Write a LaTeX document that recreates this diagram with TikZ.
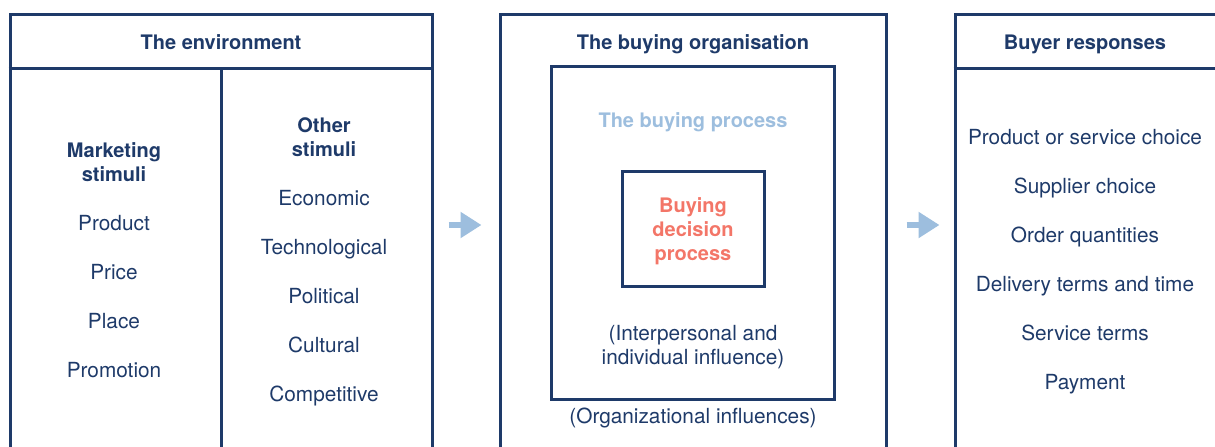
\documentclass[tikz,border=0pt]{standalone}
\usepackage{fontspec}
\setmainfont{TeX Gyre Heros}
\usetikzlibrary{arrows.meta}

\definecolor{navy}{RGB}{30,58,105}
\definecolor{paleblue}{RGB}{157,190,222}
\definecolor{salmon}{RGB}{243,118,104}

\tikzset{
  box/.style={draw=navy, line width=1.5pt, inner sep=0pt},
  head/.style={font=\bfseries, text=navy},
  item/.style={text=navy, align=center},
  oneline/.style={text height=9.4pt, text depth=2pt},
  flow/.style={draw=paleblue, line width=3pt, -{Triangle[length=10.5pt,width=12.5pt]}}
}

\begin{document}
\begin{tikzpicture}[x=0.5pt, y=-0.5pt, font=\fontsize{10.4}{12.3}\selectfont]
  \useasboundingbox (0,0) rectangle (1215,446);
  \clip (0,0) rectangle (1215,446);

  % outer boxes, running off the bottom edge
  \node [box, anchor=north, minimum width=211pt, minimum height=230pt] (env) at (221,13) {};
  \node [box, anchor=north, minimum width=193pt, minimum height=230pt] (org) at (693,13) {};
  \node [box, anchor=north, minimum width=142.5pt, minimum height=230pt] (resp) at (1097.5,13) {};

  % header rules and the column split
  \coordinate (hdr) at (0,68);
  \draw [box] (env.west |- hdr) -- (env.east |- hdr);
  \draw [box] (resp.west |- hdr) -- (resp.east |- hdr);
  \draw [box] (221,68) -- (221,460);

  % the environment
  \node [head, oneline] (envt) at (221,42) {The environment};
  \node [head, item] (mkt) at (114,162) {Marketing\\stimuli};
  \foreach \t [count=\i] in {Product,Price,Place,Promotion}
    \node [item, oneline] (mkt\i) at (114,174+49*\i) {\t};
  \node [head, item] (oth) at (324,137) {Other\\stimuli};
  \foreach \t [count=\i] in {Economic,Technological,Political,Cultural,Competitive}
    \node [item, oneline] (oth\i) at (324,149+49*\i) {\t};

  % the buying organisation
  \node [head, oneline] (orgt) at (693,42) {The buying organisation};
  \node [box, minimum width=141.5pt, minimum height=166.5pt] (proc) at (692.5,232.5) {};
  \node [head, oneline, text=paleblue] (proct) at (693,120) {The buying process};
  \node [box, minimum width=71pt, minimum height=57.5pt] (dec) at (693,228.5) {};
  \node [head, item, text=salmon] (dect) at (693,231) {Buying\\decision\\process};
  \node [item] (inter) at (693,347) {(Interpersonal and\\individual influence)};
  \node [item, oneline] (orginf) at (693,416) {(Organizational influences)};

  % buyer responses
  \node [head, oneline] (respt) at (1085,42) {Buyer responses};
  \foreach \t [count=\i] in {Product or service choice,Supplier choice,Order quantities,
      Delivery terms and time,Service terms,Payment}
    \node [item, oneline] (resp\i) at (1085,88+49*\i) {\t};

  % arrows between the stages
  \coordinate (mid) at (0,225);
  \draw [flow, shorten <=7.5pt, shorten >=8.5pt] (env.east |- mid) -- (org.west |- mid);
  \draw [flow, shorten <=9.5pt, shorten >=7pt] (org.east |- mid) -- (resp.west |- mid);
\end{tikzpicture}
\end{document}
